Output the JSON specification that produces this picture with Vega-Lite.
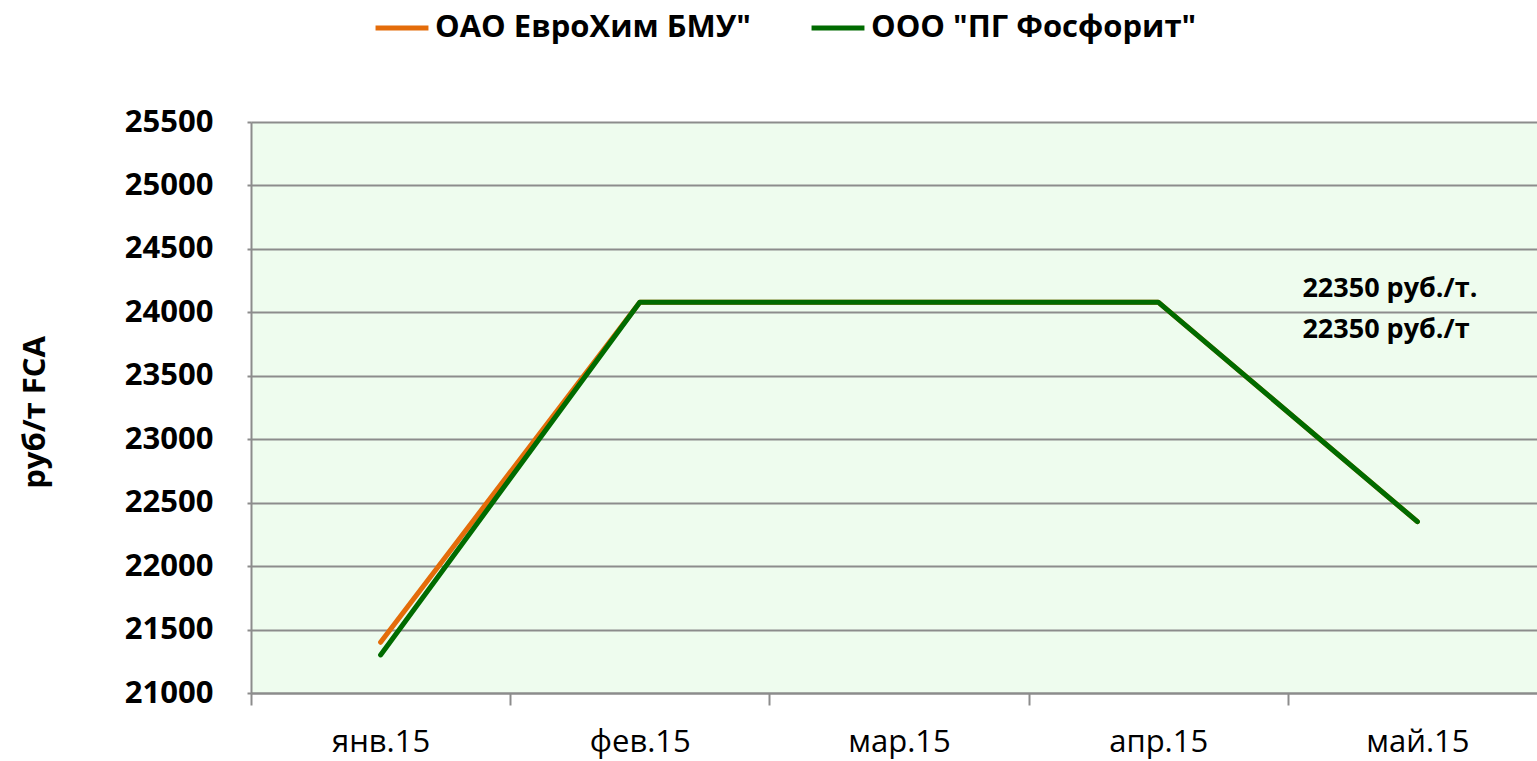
{
  "$schema": "https://vega.github.io/schema/vega-lite/v6.json",
  "autosize": "none",
  "width": 1296,
  "height": 571,
  "padding": {"left": 251, "top": 122, "right": 0, "bottom": 68},
  "background": "white",
  "config": {
    "font": "Open Sans",
    "view": {"fill": "#EEFCEE", "stroke": null}
  },
  "datasets": {
    "prices": [
      {"month": "янв.15", "company": "ОАО ЕвроХим БМУ\"", "price": 21400},
      {"month": "фев.15", "company": "ОАО ЕвроХим БМУ\"", "price": 24080},
      {"month": "мар.15", "company": "ОАО ЕвроХим БМУ\"", "price": 24080},
      {"month": "апр.15", "company": "ОАО ЕвроХим БМУ\"", "price": 24080},
      {"month": "май.15", "company": "ОАО ЕвроХим БМУ\"", "price": 22350},
      {"month": "янв.15", "company": "ООО \"ПГ Фосфорит\"", "price": 21300},
      {"month": "фев.15", "company": "ООО \"ПГ Фосфорит\"", "price": 24080},
      {"month": "мар.15", "company": "ООО \"ПГ Фосфорит\"", "price": 24080},
      {"month": "апр.15", "company": "ООО \"ПГ Фосфорит\"", "price": 24080},
      {"month": "май.15", "company": "ООО \"ПГ Фосфорит\"", "price": 22350}
    ],
    "notes": [
      {"month": "май.15", "price": 24185, "label": "22350 руб./т."},
      {"month": "май.15", "price": 23860, "label": "22350 руб./т"}
    ]
  },
  "layer": [
    {
      "data": {"name": "prices"},
      "mark": {"type": "line", "strokeWidth": 5, "strokeCap": "round", "strokeJoin": "round"},
      "encoding": {
        "x": {
          "field": "month", "type": "ordinal",
          "sort": ["янв.15", "фев.15", "мар.15", "апр.15", "май.15"],
          "scale": {"type": "band", "paddingInner": 0, "paddingOuter": 0},
          "axis": {
            "title": null, "labelAngle": 0, "tickBand": "extent",
            "domainColor": "#8C8C8C", "domainWidth": 2,
            "tickColor": "#8C8C8C", "tickWidth": 2, "tickSize": 12,
            "labelFontSize": 31, "labelFontWeight": "normal", "labelColor": "#000000",
            "labelPadding": 22, "grid": false
          }
        },
        "y": {
          "field": "price", "type": "quantitative",
          "scale": {"domain": [21000, 25500], "nice": false, "zero": false},
          "axis": {
            "values": [21000, 21500, 22000, 22500, 23000, 23500, 24000, 24500, 25000, 25500],
            "format": "d",
            "title": "руб/т FCA", "titleFontSize": 31, "titleFontWeight": "bold", "titleColor": "#000000",
            "titleX": -216, "titleY": 290, "titleAngle": -90, "titleAlign": "center", "titleBaseline": "middle",
            "labelFontSize": 31, "labelFontWeight": "bold", "labelColor": "#000000",
            "labelPadding": 34, "tickSize": 4, "tickColor": "#8C8C8C", "tickWidth": 2,
            "domainColor": "#8C8C8C", "domainWidth": 2,
            "grid": true, "gridColor": "#8C8C8C", "gridWidth": 2
          }
        },
        "color": {
          "field": "company", "type": "nominal",
          "scale": {"domain": ["ОАО ЕвроХим БМУ\"", "ООО \"ПГ Фосфорит\""], "range": ["#E46C0A", "#006B00"]},
          "legend": {
            "title": null, "orient": "none", "direction": "horizontal",
            "legendX": 122, "legendY": -123,
            "symbolType": "stroke", "symbolSize": 2800, "symbolStrokeWidth": 5,
            "labelFontSize": 31, "labelFontWeight": "bold", "labelColor": "#000000",
            "labelOffset": 4, "columnPadding": 50, "labelLimit": 600
          }
        }
      }
    },
    {
      "data": {"name": "notes"},
      "mark": {"type": "text", "align": "left", "baseline": "middle", "dx": -115, "fontSize": 27, "fontWeight": "bold", "color": "#000000"},
      "encoding": {
        "x": {"field": "month", "type": "ordinal", "sort": ["янв.15", "фев.15", "мар.15", "апр.15", "май.15"]},
        "y": {"field": "price", "type": "quantitative"},
        "text": {"field": "label"}
      }
    }
  ]
}
